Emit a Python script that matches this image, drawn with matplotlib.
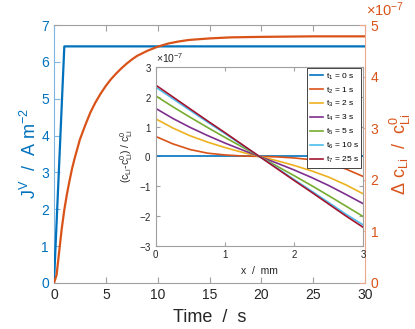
import matplotlib
matplotlib.use("Agg")
import matplotlib.pyplot as plt
from matplotlib.ticker import ScalarFormatter

plt.rcParams['font.family'] = ['Liberation Sans', 'DejaVu Sans']
plt.rcParams['mathtext.fontset'] = 'custom'
plt.rcParams['mathtext.rm'] = 'Liberation Sans'
plt.rcParams['mathtext.it'] = 'Liberation Sans'
plt.rcParams['mathtext.default'] = 'regular'

# --- main plot data ---
t_j = [0, 1, 30]
j_v = [0, 6.42, 6.42]  # A m^-2

t_c = [0, 0.25, 0.5, 0.75, 1, 1.25, 1.5, 1.75, 2, 2.5, 3, 3.5, 4, 4.5, 5, 5.5, 6, 6.5, 7,
       7.5, 8, 9, 10, 11, 12, 13, 15, 17, 20, 25, 30]
dc = [0, 0.15, 0.6, 1.05, 1.42, 1.72, 1.98, 2.22, 2.42, 2.78, 3.05, 3.3, 3.5, 3.67, 3.82,
      3.95, 4.06, 4.16, 4.25, 4.33, 4.4, 4.5, 4.58, 4.64, 4.68, 4.71, 4.74, 4.76, 4.77,
      4.78, 4.78]  # x1e-7

# --- inset data (x1e-7) ---
x_mm = [0, 0.25, 0.5, 0.75, 1.0, 1.25, 1.5, 1.75, 2.0, 2.25, 2.5, 2.75, 3.0]
prof_t1 = [0, 0, 0, 0, 0, 0, 0, 0, 0, 0, 0, 0, 0]
prof_t2 = [0.67, 0.42, 0.23, 0.11, 0.05, 0.015, 0, -0.015, -0.05, -0.11, -0.23, -0.42, -0.67]
prof_t3 = [1.26, 0.95, 0.69, 0.48, 0.30, 0.14, 0, -0.14, -0.30, -0.48, -0.69, -0.95, -1.25]
prof_t4 = [1.61, 1.27, 0.97, 0.70, 0.45, 0.22, 0, -0.22, -0.45, -0.70, -0.97, -1.27, -1.58]
prof_t5 = [2.03, 1.66, 1.31, 0.97, 0.64, 0.32, 0, -0.32, -0.64, -0.97, -1.31, -1.66, -2.01]
prof_t6 = [2.32, 1.93, 1.54, 1.15, 0.77, 0.38, 0, -0.38, -0.77, -1.15, -1.54, -1.93, -2.29]
prof_t7 = [2.39, 1.99, 1.59, 1.19, 0.80, 0.40, 0, -0.40, -0.80, -1.19, -1.59, -1.99, -2.37]
profiles = [prof_t1, prof_t2, prof_t3, prof_t4, prof_t5, prof_t6, prof_t7]
labels = ['t$_1$ = 0 s', 't$_2$ = 1 s', 't$_3$ = 2 s', 't$_4$ = 3 s',
          't$_5$ = 5 s', 't$_6$ = 10 s', 't$_7$ = 25 s']

colors = ['#0072BD', '#D95319', '#EDB120', '#7E2F8E', '#77AC30', '#4DBEEE', '#A2142F']
grey = '#262626'

fig = plt.figure(figsize=(4.15, 3.29), dpi=100)
ax = fig.add_axes([0.130, 0.140, 0.750, 0.784])
ax2 = ax.twinx()

ax.plot(t_j, j_v, color=colors[0], lw=1.6, zorder=3)
ax2.plot(t_c, [v * 1e-7 for v in dc], color=colors[1], lw=1.6)

ax.set_xlim(0, 30)
ax.set_ylim(0, 7)
ax2.set_ylim(0, 5e-7)
ax.set_xticks(range(0, 31, 5))
ax.set_yticks(range(0, 8))
ax2.set_yticks([i * 1e-7 for i in range(6)])

fmt = ScalarFormatter(useMathText=True)
fmt.set_powerlimits((0, 0))
ax2.yaxis.set_major_formatter(fmt)
ax2.yaxis.get_offset_text().set_visible(False)
fig.text(0.882, 0.952, r'$\times10^{-7}$', fontsize=10.5, color=colors[1],
         ha='left', va='baseline')

ax.tick_params(axis='x', direction='in', length=4, labelsize=10, colors='#a0a0a0',
               labelcolor=grey, top=True)
ax.tick_params(axis='y', direction='in', length=4, labelsize=10, colors='#7fb5de',
               labelcolor=colors[0], right=False)
ax2.tick_params(axis='y', direction='in', length=4, labelsize=10, colors='#eca98c',
                labelcolor=colors[1])

for s in ['top', 'bottom']:
    ax.spines[s].set_color('#a0a0a0')
ax.spines['left'].set_color('#7fb5de')
ax.spines['right'].set_visible(False)
for s in ['top', 'bottom', 'left']:
    ax2.spines[s].set_visible(False)
ax2.spines['right'].set_color('#eca98c')

ax.set_xlabel('Time  /  s', fontsize=13, color=grey, labelpad=5)
ax.set_ylabel('J$^V$  /  A m$^{-2}$', fontsize=13, color=colors[0], labelpad=1)
ax2.set_ylabel(r'$\Delta$ c$_{Li}$  /  c$^0_{Li}$', fontsize=13, color=colors[1], labelpad=6)

# inset
axi = fig.add_axes([0.375, 0.252, 0.500, 0.545])
for prof, lab, col in zip(profiles, labels, colors):
    axi.plot(x_mm, [v * 1e-7 for v in prof], color=col, lw=1.2, label=lab)
axi.set_xlim(0, 3)
axi.set_ylim(-3e-7, 3e-7)
axi.set_xticks([0, 1, 2, 3])
axi.set_yticks([i * 1e-7 for i in range(-3, 4)])
fmt2 = ScalarFormatter(useMathText=True)
fmt2.set_powerlimits((0, 0))
axi.yaxis.set_major_formatter(fmt2)
axi.yaxis.get_offset_text().set_fontsize(7.5)
axi.yaxis.get_offset_text().set_color(grey)
axi.tick_params(direction='in', length=3, labelsize=7, colors='#a0a0a0',
                labelcolor=grey, top=True, right=True, pad=3)
for s in axi.spines.values():
    s.set_color('#a0a0a0')
axi.set_xlabel('x  /  mm', fontsize=7.5, color=grey, labelpad=4)
axi.set_ylabel('(c$_{Li}$-c$^0_{Li}$) / c$^0_{Li}$', fontsize=7.5, color=grey, labelpad=3)
leg = axi.legend(loc='upper right', fontsize=6, handlelength=1.6, handletextpad=0.3,
                 labelspacing=0.45, borderaxespad=0.2, borderpad=0.35,
                 fancybox=False, framealpha=1)
leg.get_frame().set_edgecolor(grey)
leg.get_frame().set_linewidth(0.6)

fig.savefig('out.png', dpi=100)
